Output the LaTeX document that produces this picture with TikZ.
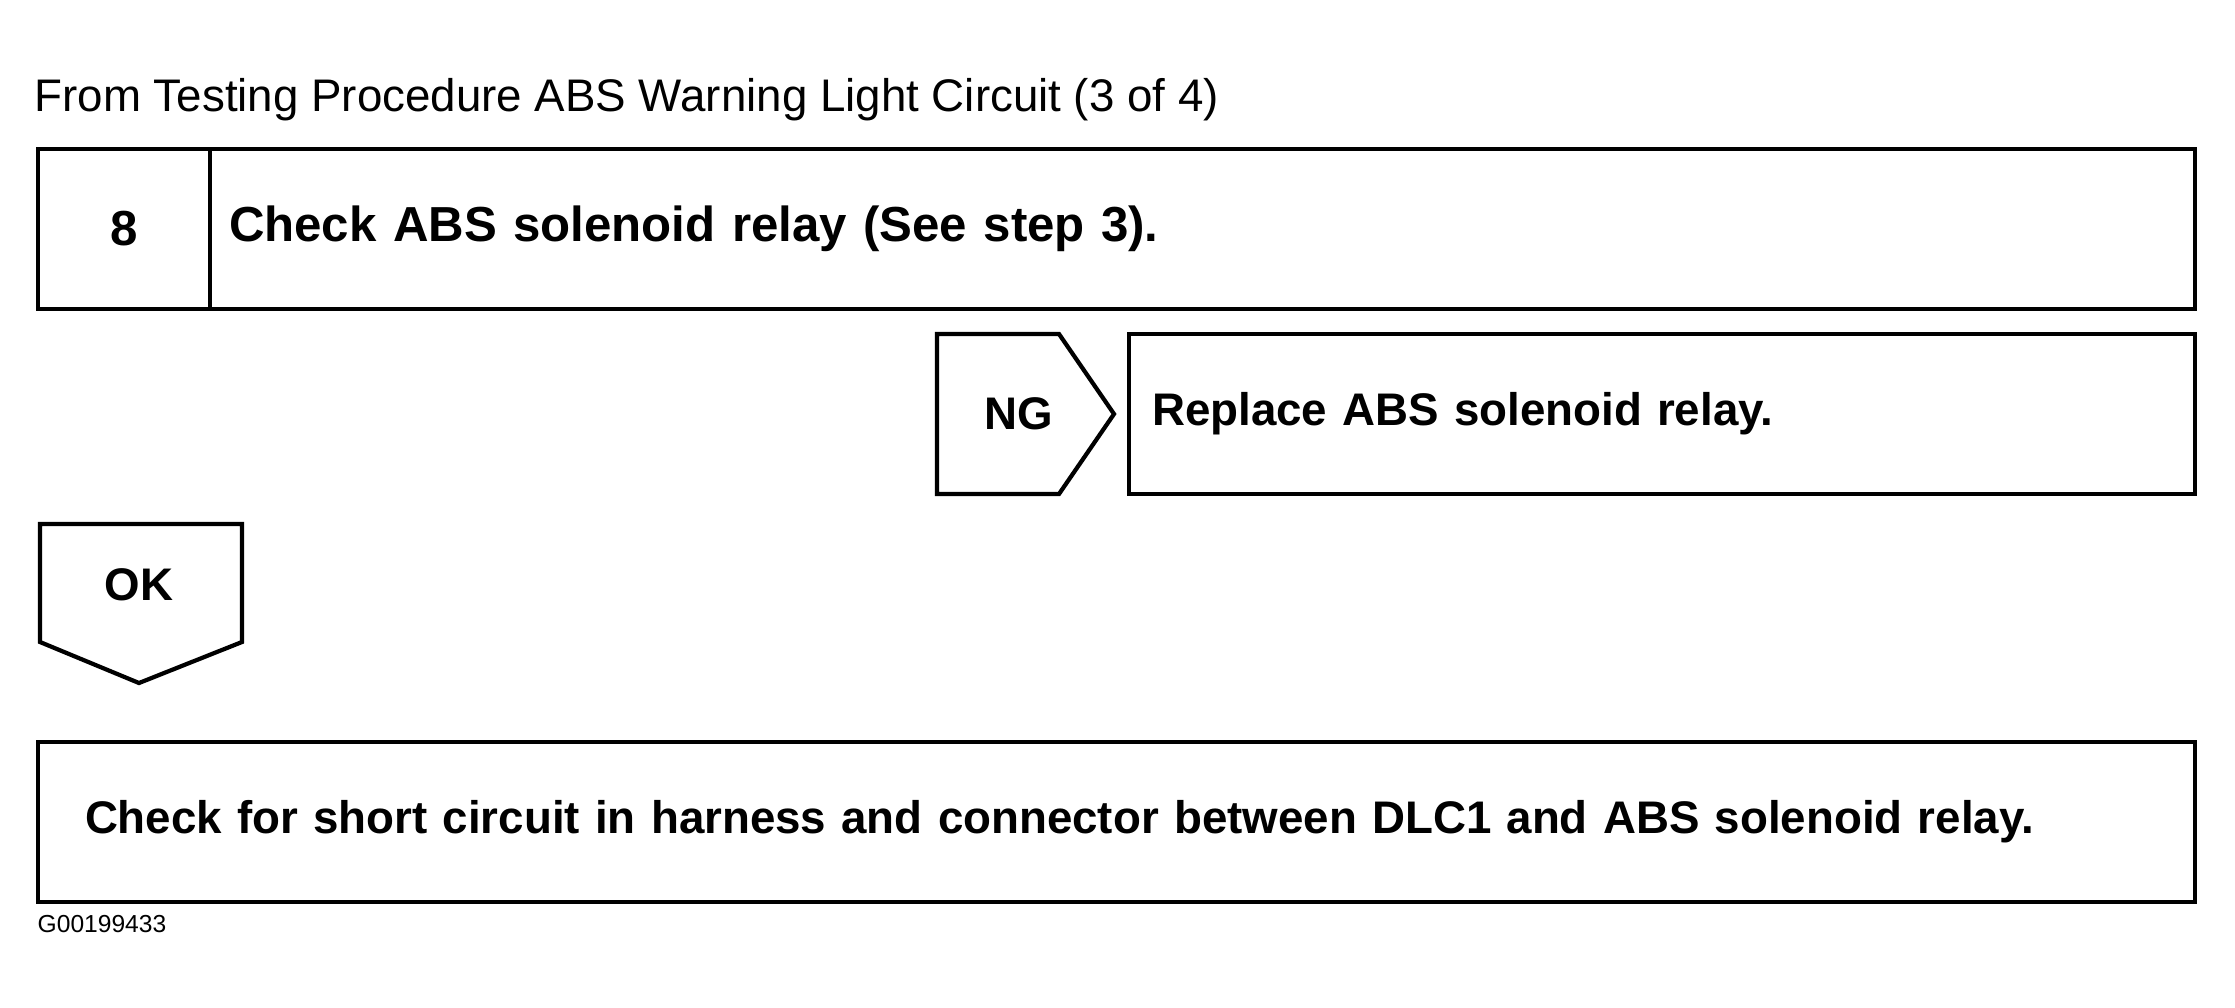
\documentclass[tikz,border=0pt]{standalone}
\usepackage{fontspec}
\setmainfont{Liberation Sans}
\usetikzlibrary{positioning}

\begin{document}
\begin{tikzpicture}[
  cell/.style={rectangle, draw=black, line width=1.2pt, minimum height=1.6cm, inner sep=0pt, outer sep=0pt, font=\bfseries\fontsize{13}{15}\selectfont},
  textcell/.style={cell, anchor=west, align=left},
  big/.style={font=\bfseries\fontsize{14}{16}\selectfont},
  tab/.style={draw=black, line width=1.2pt, line join=miter},
  tag/.style={inner sep=0pt, font=\bfseries\fontsize{13}{15}\selectfont}
]
\useasboundingbox (0,0) rectangle (22.35,-10.07);

% Heading
\node (title) [anchor=base west, inner sep=0pt, font=\fontsize{13}{15}\selectfont] at (0.34,-1.11) {From Testing Procedure ABS Warning Light Circuit (3 of 4)};

% Step 8
\node (num) [cell, big, minimum width=1.72cm] at (1.24,-2.29) {8};
\node (check) [textcell, big, right=0pt of num, inner xsep=0.19cm, text width=19.47cm] {Check ABS solenoid relay (See step 3).};

% NG branch
\draw [tab] (9.37,-3.34) -- (10.59,-3.34) -- (11.14,-4.14) -- (10.59,-4.94) -- (9.37,-4.94) -- cycle;
\node (ng) [tag] at (10.19,-4.14) {NG};
\node (replace) [textcell, inner xsep=0.23cm, text width=10.20cm] at (11.29,-4.14) {Replace ABS solenoid relay.};

% OK branch
\draw [tab] (0.40,-5.24) -- (2.42,-5.24) -- (2.42,-6.42) -- (1.39,-6.83) -- (0.40,-6.42) -- cycle;
\node (ok) [tag] at (1.39,-5.85) {OK};
\node (short) [textcell, inner xsep=0.47cm, text width=20.63cm] at (0.38,-8.22) {Check for short circuit in harness and connector between DLC1 and ABS solenoid relay.};

\node (code) [anchor=base west, inner sep=0pt, font=\fontsize{7}{8}\selectfont] at (0.37,-9.32) {G00199433};
\end{tikzpicture}
\end{document}
